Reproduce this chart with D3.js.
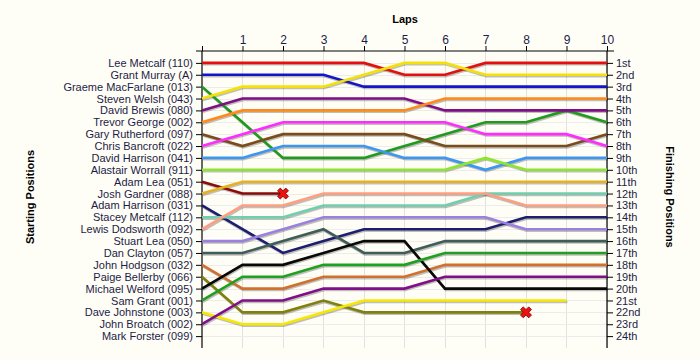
<!DOCTYPE html>
<html><head><meta charset="utf-8">
<script src="https://cdn.jsdelivr.net/npm/d3@7"></script>
<style>
body{margin:0;background:#fffef6;}
svg{display:block;font-family:"Liberation Sans",Arial,sans-serif;}
</style></head><body>
<svg id="c" width="700" height="360"></svg>
<script>
const laps = [0,1,2,3,4,5,6,7,8,9,10];
const lapTicks = [1,2,3,4,5,6,7,8,9,10];
const starters = ["Lee Metcalf (110)","Grant Murray (A)","Graeme MacFarlane (013)","Steven Welsh (043)","David Brewis (080)","Trevor George (002)","Gary Rutherford (097)","Chris Bancroft (022)","David Harrison (041)","Alastair Worrall (911)","Adam Lea (051)","Josh Gardner (088)","Adam Harrison (031)","Stacey Metcalf (112)","Lewis Dodsworth (092)","Stuart Lea (050)","Dan Clayton (057)","John Hodgson (032)","Paige Bellerby (066)","Michael Welford (095)","Sam Grant (001)","Dave Johnstone (003)","John Broatch (002)","Mark Forster (099)"];
const finishLabels = ["1st","2nd","3rd","4th","5th","6th","7th","8th","9th","10th","11th","12th","13th","14th","15th","16th","17th","18th","19th","20th","21st","22nd","23rd","24th"];
// position per lap (lap 0 = start)
const positions = [
  [1,1,1,1,1,2,2,1,1,1,1],
  [2,2,2,2,3,3,3,3,3,3,3],
  [3,6,9,9,9,8,7,6,6,5,6],
  [4,3,3,3,2,1,1,2,2,2,2],
  [5,4,4,4,4,4,5,5,5,5,5],
  [6,5,5,5,5,5,4,4,4,4,4],
  [7,8,7,7,7,7,8,8,8,8,7],
  [8,7,6,6,6,6,6,7,7,7,8],
  [9,9,8,8,8,9,9,10,9,9,9],
  [10,10,10,10,10,10,10,9,10,10,10],
  [11,12,12],
  [12,11,11,11,11,11,11,11,11,11,11],
  [13,15,17,16,15,15,15,15,14,14,14],
  [14,14,14,13,13,13,13,12,12,12,12],
  [15,13,13,12,12,12,12,12,13,13,13],
  [16,16,15,14,14,14,14,14,15,15,15],
  [17,17,16,15,17,17,16,16,16,16,16],
  [18,20,20,19,19,19,18,18,18,18,18],
  [19,22,22,21,22,22,22,22,22],
  [20,18,18,17,16,16,20,20,20,20,20],
  [21,19,19,18,18,18,17,17,17,17,17],
  [22,23,23,22,21,21,21,21,21,21],
  [23,21,21,20,20,20,19,19,19,19,19],
  []
];
const retired = [false,false,false,false,false,false,false,false,false,false,true,false,false,false,false,false,false,false,true,false,false,false,false,false];
const colors = ["#e41010","#1414c8","#1f9a1f","#f5e10a","#7e0f86","#ff8a1c","#7a4b1c","#ff2bff","#3d96f0","#8ce62a","#8b0a0a","#e6b21e","#1e1e70","#6fcfae","#ff9e80","#9b80e0","#3e5c58","#d2702e","#808010","#080808","#20a020","#f8e800","#80108a","#888888"];

const svg = d3.select("#c");
const L = 202, R = 607, T = 51, B = 348;
const x = d3.scaleLinear().domain([0,10]).range([L,R]);
const y = d3.scaleLinear().domain([0,25]).range([T,B]);

const g = svg.append("g");
// grid
g.append("g").selectAll("line").data(lapTicks).join("line")
  .attr("x1",d=>x(d)).attr("x2",d=>x(d)).attr("y1",T).attr("y2",B)
  .attr("stroke","#e2e2e2").attr("stroke-width",1).attr("shape-rendering","crispEdges");
g.append("g").selectAll("line").data(d3.range(1,25)).join("line")
  .attr("x1",L).attr("x2",R).attr("y1",d=>Math.round(y(d))+0.5).attr("y2",d=>Math.round(y(d))+0.5)
  .attr("stroke","#ececec").attr("stroke-width",1);

// axes
const txtCol = "#1c1c48";
const topAx = g.append("g").attr("transform",`translate(0,${T})`)
  .call(d3.axisTop(x).tickValues([0].concat(lapTicks)).tickFormat(d=>d===0?"":d).tickSize(5).tickPadding(2));
const leftAx = g.append("g").attr("transform",`translate(${L},0)`)
  .call(d3.axisLeft(y).tickValues(d3.range(1,25)).tickFormat(d=>starters[d-1]).tickSize(6).tickPadding(3));
const rightAx = g.append("g").attr("transform",`translate(${R},0)`)
  .call(d3.axisRight(y).tickValues(d3.range(1,25)).tickFormat(d=>finishLabels[d-1]).tickSize(6).tickPadding(3));
[topAx,leftAx,rightAx].forEach(a=>{
  a.select(".domain").remove();
  a.selectAll("text").attr("fill",txtCol).style("font-size","11px").style("font-family","'Liberation Sans',Arial,sans-serif");
  a.selectAll("line").attr("stroke","#000");
});
topAx.selectAll("text").style("font-size","12px");
// axis lines
g.append("line").attr("x1",L-6).attr("x2",R+7).attr("y1",T).attr("y2",T).attr("stroke","#000").attr("stroke-width",1.2);
g.append("line").attr("x1",L).attr("x2",L).attr("y1",T).attr("y2",B).attr("stroke","#000").attr("stroke-width",1.2);
g.append("line").attr("x1",R).attr("x2",R).attr("y1",T).attr("y2",B).attr("stroke","#000").attr("stroke-width",1.2);

// lines
const line = d3.line().x((d,i)=>x(laps[i])).y(d=>y(d));
const series = positions.map((p,i)=>({p,i})).filter(s=>s.p.length>1);
const lg = g.append("g");
series.forEach(s=>{
  lg.append("path").attr("d",line(s.p)).attr("fill","none")
    .attr("stroke","#000").attr("stroke-opacity",0.25).attr("stroke-width",2.6)
    .attr("transform","translate(0.8,1.4)");
});
series.forEach(s=>{
  lg.append("path").attr("d",line(s.p)).attr("fill","none")
    .attr("stroke",colors[s.i]).attr("stroke-width",2.6).attr("stroke-linejoin","miter");
});
// retired markers
const cross = d3.symbol().type(d3.symbolCross).size(75);
series.filter(s=>retired[s.i]).forEach(s=>{
  const li = s.p.length-1;
  lg.append("path").attr("d",cross())
    .attr("transform",`translate(${x(laps[li])},${y(s.p[li])}) rotate(45)`)
    .attr("fill","#ee1111").attr("stroke","#7a0000").attr("stroke-width",0.8);
});

// titles
svg.append("text").attr("x",405).attr("y",23).attr("text-anchor","middle")
  .style("font-weight","bold").style("font-size","11px").attr("fill","#000").text("Laps");
svg.append("text").attr("transform","translate(34,197) rotate(-90)").attr("text-anchor","middle")
  .style("font-weight","bold").style("font-size","11px").attr("fill","#000").text("Starting Positions");
svg.append("text").attr("transform","translate(666,197) rotate(90)").attr("text-anchor","middle")
  .style("font-weight","bold").style("font-size","11px").attr("fill","#000").text("Finishing Positions");
</script></body></html>
